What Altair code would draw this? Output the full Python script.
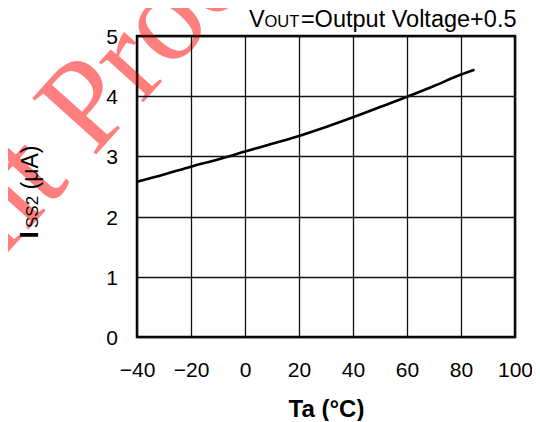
import altair as alt
import pandas as pd

# ---- data ----
temps = [-40, -30, -20, -10, 0, 10, 20, 30, 40, 50, 60, 70, 80, 85]
iss2 = [2.58, 2.70, 2.83, 2.95, 3.08, 3.21, 3.34, 3.49, 3.65, 3.82, 3.99, 4.17, 4.36, 4.44]
x_ticks = [-40, -20, 0, 20, 40, 60, 80, 100]
y_ticks = [0, 1, 2, 3, 4, 5]
x_title = "Ta (°C)"
y_title_parts = ["I", "SS2", "(μA)"]
cond_parts = ["V", "OUT", "=Output Voltage+0.5"]
watermark_parts = ["Development", "Product"]

W, H = 378, 301
FONT = "Liberation Sans"

df = pd.DataFrame({"Ta": temps, "Iss2": iss2})

line = alt.Chart(df).mark_line(color="black", strokeWidth=2.6, interpolate="monotone").encode(
    x=alt.X("Ta:Q",
            scale=alt.Scale(domain=[-40, 100], nice=False, zero=False),
            axis=alt.Axis(values=x_ticks, title=x_title, grid=True, domain=False,
                          tickSize=0, labelPadding=22, labelFontSize=21, labelFont=FONT,
                          labelColor="black", labelFlush=False, labelOverlap=False,
                          gridColor="#111111", gridWidth=1.3, zindex=1,
                          titleFont=FONT, titleFontSize=24, titleFontWeight="bold",
                          titleColor="black", titleBaseline="alphabetic",
                          titleX=W / 2, titleY=79, titleAlign="center")),
    y=alt.Y("Iss2:Q",
            scale=alt.Scale(domain=[0, 5], nice=False, zero=False),
            axis=alt.Axis(values=y_ticks, title=None, grid=True, domain=False,
                          tickSize=0, labelPadding=19.5, labelFontSize=21, labelFont=FONT,
                          labelColor="black", labelFlush=False, labelOverlap=False,
                          labelOffset=1.5, gridColor="#111111", gridWidth=1.3, zindex=1)),
)

# watermark (behind everything)
wm_angle = 312
wm_size = 130
wm_x, wm_y = -44, 122
wm_a = alt.Chart(pd.DataFrame({"t": [watermark_parts[1]]})).mark_text(
    angle=wm_angle, fontSize=wm_size, font="Liberation Serif", color="#ff0000",
    opacity=0.5, align="left", baseline="alphabetic").encode(
    text="t:N", x=alt.value(wm_x), y=alt.value(wm_y))
wm_b = alt.Chart(pd.DataFrame({"t": [watermark_parts[0]]})).mark_text(
    angle=wm_angle, fontSize=wm_size, font="Liberation Serif", color="#ff0000",
    opacity=0.5, align="right", baseline="alphabetic").encode(
    text="t:N", x=alt.value(wm_x - 0.25 * wm_size * 0.669),
    y=alt.value(wm_y + 0.25 * wm_size * 0.743))

# condition text at top right
c1 = alt.Chart(pd.DataFrame({"t": [cond_parts[0]]})).mark_text(
    fontSize=23.5, font=FONT, color="black", align="left", baseline="alphabetic").encode(
    text="t:N", x=alt.value(112), y=alt.value(-9.3))
c2 = alt.Chart(pd.DataFrame({"t": [cond_parts[1]]})).mark_text(
    fontSize=16.5, font=FONT, color="black", align="left", baseline="alphabetic").encode(
    text="t:N", x=alt.value(127.5), y=alt.value(-9.3))
c3 = alt.Chart(pd.DataFrame({"t": [cond_parts[2]]})).mark_text(
    fontSize=23.5, font=FONT, color="black", align="right", baseline="alphabetic").encode(
    text="t:N", x=alt.value(379.5), y=alt.value(-9.3))

# y axis title pieces, rotated
yx = -99.5
y1 = alt.Chart(pd.DataFrame({"t": [y_title_parts[0]]})).mark_text(
    fontSize=26, font=FONT, fontWeight="bold", color="black", angle=270,
    align="left", baseline="alphabetic").encode(
    text="t:N", x=alt.value(yx), y=alt.value(202.5))
y2 = alt.Chart(pd.DataFrame({"t": [y_title_parts[1]]})).mark_text(
    fontSize=17, font=FONT, color="black", angle=270,
    align="left", baseline="alphabetic").encode(
    text="t:N", x=alt.value(yx), y=alt.value(192))
y3 = alt.Chart(pd.DataFrame({"t": [y_title_parts[2]]})).mark_text(
    fontSize=23, font=FONT, color="black", angle=270,
    align="center", baseline="alphabetic").encode(
    text="t:N", x=alt.value(yx), y=alt.value(131.5))

chart = alt.layer(wm_b, wm_a, line, c1, c2, c3, y1, y2, y3).properties(
    width=W, height=H,
    padding={"left": 129, "top": 28, "right": 17, "bottom": 84},
    autosize=alt.AutoSizeParams(type="none"),
    background="white",
).configure_view(stroke="black", strokeWidth=2.5)

chart.save("out.html", embed_options={"renderer": "svg", "actions": False})
